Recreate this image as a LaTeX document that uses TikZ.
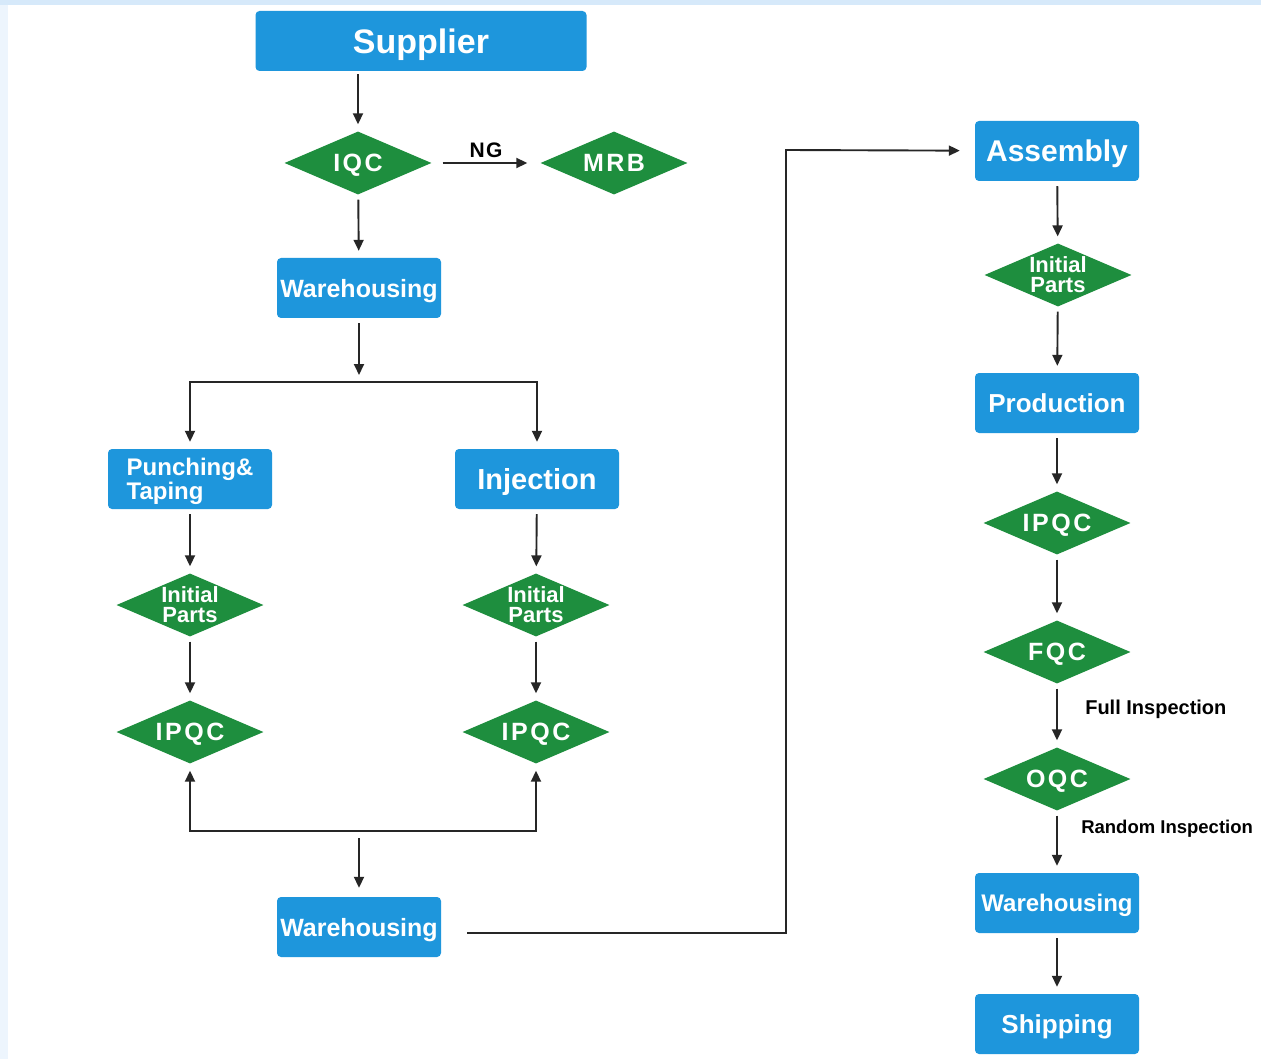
\documentclass[tikz,border=0pt]{standalone}
\usepackage{fontspec}
\setmainfont{Liberation Sans}
\usetikzlibrary{shapes.geometric,arrows.meta}
\definecolor{boxblue}{HTML}{1E96DC}
\definecolor{gategreen}{HTML}{1E8E3E}
\definecolor{edgeblue}{HTML}{D6E9FA}
\newcommand{\fsz}[1]{\fontsize{#1}{#1}\selectfont}

\begin{document}
\begin{tikzpicture}[x=1pt, y=-1pt,
          box/.style={rectangle, rounded corners=4pt, fill=boxblue, text=white, minimum width=164pt,
            minimum height=60pt, inner sep=0pt, text depth=0pt, font=\bfseries\fsz{25}},
          wide/.style={box, minimum width=331pt, font=\bfseries\fsz{34}},
          gate/.style={diamond, aspect=2.33, fill=gategreen, text=white, minimum width=147pt, minimum height=63pt,
            inner sep=0pt, text depth=0pt, font=\bfseries\fsz{25}\addfontfeature{LetterSpace=10}},
          twoline/.style={gate, inner sep=-3pt, align=center, font=\bfseries\fontsize{22}{20}\selectfont},
          flow/.style={-{Triangle[length=11pt, width=10pt]}, line width=1.9pt, draw=black!85,
            shorten <=5pt, shorten >=7pt},
          note/.style={anchor=west, xshift=24pt, font=\bfseries\fsz{20}}]
          % \draw [help lines] grid(3,2);
          \fill[white] (0,0) rectangle (1261,1059);
          \fill[edgeblue!45] (0,0) rectangle (8,1059);
          \fill[edgeblue] (0,0) rectangle (1261,5);
          \useasboundingbox (0,0) rectangle (1261,1059);

          % left branch
          \node[wide] (supplier) at (421,41) {Supplier};
          \node[gate] (iqc) at (358,163) {IQC};
          \node[gate] (mrb) at (614,163) {MRB};
          \node[box] (wh1) at (359,288) {Warehousing};
          \node[box, align=left, font=\bfseries\fontsize{24}{22}\selectfont] (punch) at (190,479) {Punching\&\\Taping};
          \node[box, font=\bfseries\fsz{29}] (inject) at (537,479) {Injection};
          \node[twoline] (ip1) at (190,605) {Initial\\Parts};
          \node[gate] (ipqc1) at (190,732) {IPQC};
          \node[twoline] (ip2) at (536,605) {Initial\\Parts};
          \node[gate] (ipqc2) at (536,732) {IPQC};
          \node[box] (wh2) at (359,927) {Warehousing};
          \coordinate (fork) at (359,382);
          \coordinate (merge) at (359,831);
          \coordinate (hop) at (786,150);

          % right column
          \node[box, font=\bfseries\fsz{30}] (assembly) at (1057,151) {Assembly};
          \node[twoline] (ip3) at (1058,275) {Initial\\Parts};
          \node[box, font=\bfseries\fsz{26}] (prod) at (1057,403) {Production};
          \node[gate] (ipqc3) at (1057,523) {IPQC};
          \node[gate] (fqc) at (1057,652) {FQC};
          \node[gate] (oqc) at (1057,779) {OQC};
          \node[box, font=\bfseries\fsz{24}] (wh3) at (1057,903) {Warehousing};
          \node[box, font=\bfseries\fsz{26}] (ship) at (1057,1024) {Shipping};

          \draw[flow, shorten <=3pt] (supplier.south -| iqc) -- (iqc);
          \draw[flow, shorten <=11pt, shorten >=13pt] (iqc) -- (mrb)
            node[midway, above=1pt, font=\bfseries\fsz{21}\addfontfeature{LetterSpace=6}] {NG};
          \draw[flow] (iqc) -- (wh1);
          \draw[flow] (wh1) -- (fork);
          \draw[flow, shorten <=0pt] (fork) -| (punch);
          \draw[flow, shorten <=0pt] (fork) -| (inject);
          \draw[flow] (punch) -- (ip1);
          \draw[flow] (ip1) -- (ipqc1);
          \draw[flow] (inject) -- (ip2);
          \draw[flow] (ip2) -- (ipqc2);
          \draw[flow, shorten <=0pt] (merge) -| (ipqc1);
          \draw[flow, shorten <=0pt] (merge) -| (ipqc2);
          \draw[flow, shorten <=7pt, shorten >=9pt] (merge) -- (wh2);
          \draw[flow, shorten <=26pt, shorten >=15pt] ([yshift=-6pt]wh2.east) -| (hop) -- (assembly);

          \draw[flow] (assembly) -- (ip3);
          \draw[flow] (ip3) -- (prod);
          \draw[flow] (prod) -- (ipqc3);
          \draw[flow] (ipqc3) -- (fqc);
          \draw[flow] (fqc) -- (oqc) node[note, pos=0.4] {Full Inspection};
          \draw[flow] (oqc) -- (wh3) node[note, pos=0.29, xshift=-4pt, font=\bfseries\fsz{18.5}] {Random Inspection};
          \draw[flow] (wh3) -- (ship);
        \end{tikzpicture}
\end{document}
